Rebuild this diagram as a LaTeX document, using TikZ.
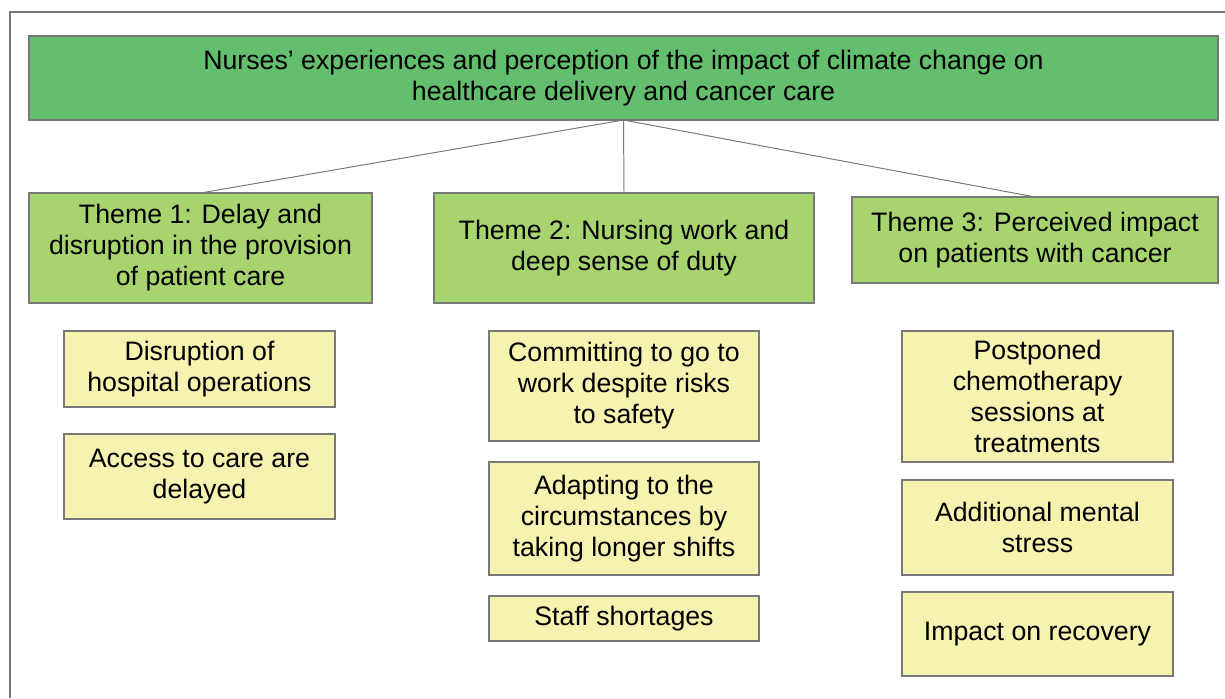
\documentclass[tikz,border=0pt]{standalone}
\usepackage{fontspec}
\setmainfont{Liberation Sans}
\usepackage{tikz}
\usetikzlibrary{positioning}

\definecolor{topgreen}{RGB}{99,190,110}
\definecolor{themegreen}{RGB}{168,212,112}
\definecolor{subyellow}{RGB}{246,243,176}
\definecolor{edgegray}{RGB}{120,120,120}

\begin{document}
\begin{tikzpicture}

\useasboundingbox (0,0) rectangle (30.625,-17.45);

% Define block styles
\tikzstyle{box}=[draw=edgegray, line width=0.9pt, align=center, inner sep=0pt,
  outer sep=0pt, font=\fontsize{19}{22}\selectfont]
\tikzstyle{topic}=[box, fill=topgreen, minimum width=29.725cm, minimum height=2.1cm]
\tikzstyle{theme}=[box, fill=themegreen, minimum height=2.75cm]
\tikzstyle{subtheme}=[box, fill=subyellow, minimum width=6.775cm]
\tikzstyle{line}=[draw, color=edgegray, line width=0.7pt]

% Frame (only left and top edges show)
\draw[edgegray, line width=1.4pt] (0.25,-17.45) -- (0.25,-0.3) -- (30.625,-0.3);

% Draw diagram elements
\path node at (15.5875,-1.95) (topic) [topic] {%
Nurses’ experiences and perception of the impact of climate change on\\%
healthcare delivery and cancer care};

\path node at (5.0125,-6.2) (t1) [theme, minimum width=8.575cm] {%
Theme 1: Delay and\\disruption in the provision\\of patient care};
\path node at (15.6,-6.2) (t2) [theme, minimum width=9.5cm] {%
Theme 2: Nursing work and\\deep sense of duty};
\path node at (25.875,-6.0) (t3) [theme, minimum width=9.15cm, minimum height=2.15cm] {%
Theme 3: Perceived impact\\on patients with cancer};

% Theme 1 subthemes
\path node[anchor=north] at (4.9875,-8.275) (s11) [subtheme, minimum height=1.9cm] {%
Disruption of\\hospital operations};
\path (s11.south)+(0.0,-0.675) node[anchor=north] (s12) [subtheme, minimum height=2.125cm] {%
Access to care are\\delayed};

% Theme 2 subthemes
\path node[anchor=north] at (15.6,-8.275) (s21) [subtheme, minimum width=6.75cm, minimum height=2.75cm] {%
Committing to go to\\work despite risks\\to safety};
\path (s21.south)+(0.0,-0.525) node[anchor=north] (s22) [subtheme, minimum width=6.75cm, minimum height=2.825cm] {%
Adapting to the\\circumstances by\\taking longer shifts};
\path (s22.south)+(0.0,-0.525) node[anchor=north] (s23) [subtheme, minimum width=6.75cm, minimum height=1.125cm] {%
Staff shortages};

% Theme 3 subthemes
\path node[anchor=north] at (25.9375,-8.275) (s31) [subtheme, minimum height=3.275cm] {%
Postponed\\chemotherapy\\sessions at\\treatments};
\path (s31.south)+(0.0,-0.45) node[anchor=north] (s32) [subtheme, minimum height=2.375cm] {%
Additional mental\\stress};
\path (s32.south)+(0.0,-0.425) node[anchor=north] (s33) [subtheme, minimum height=2.1cm] {%
Impact on recovery};

% Connectors
\path [line] (topic.south) -- (t1.north);
\path [line] (topic.south) -- (t2.north);
\path [line] (topic.south) -- (t3.north);

\end{tikzpicture}
\end{document}
